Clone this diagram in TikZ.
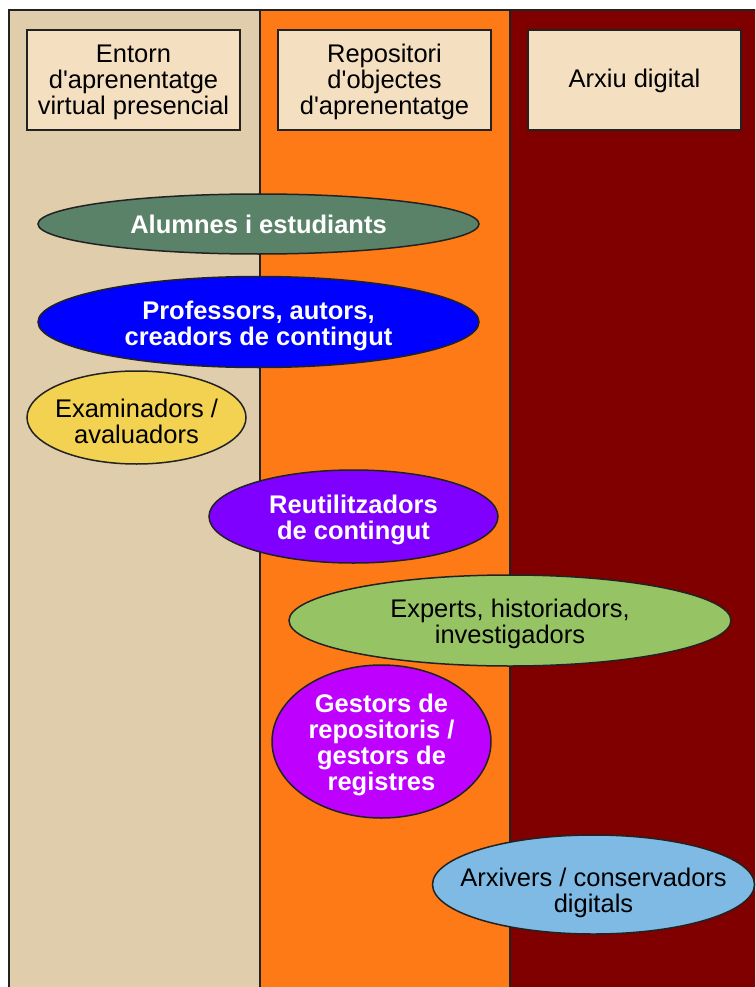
\documentclass[tikz,border=0pt]{standalone}
\usepackage{fontspec}
\setmainfont{Liberation Sans}
\usetikzlibrary{shapes.geometric}
\definecolor{colA}{RGB}{223,205,172}
\definecolor{colB}{RGB}{254,122,22}
\definecolor{colC}{RGB}{128,0,0}
\definecolor{hdrfill}{RGB}{244,224,193}
\definecolor{edgecol}{RGB}{34,34,34}
\definecolor{ellGreenDark}{RGB}{90,130,104}
\definecolor{ellBlue}{RGB}{0,0,255}
\definecolor{ellYellow}{RGB}{242,210,80}
\definecolor{ellPurple}{RGB}{128,0,255}
\definecolor{ellGreen}{RGB}{150,196,100}
\definecolor{ellMagenta}{RGB}{190,0,255}
\definecolor{ellLightBlue}{RGB}{126,186,228}
\newcommand{\apos}{\textquotesingle}
\tikzset{
  txt/.style={font=\fontsize{25.5}{26}\selectfont, align=center},
  hdrbox/.style={draw=edgecol, line width=1.5pt, fill=hdrfill,
    minimum width=213pt, minimum height=100pt, inner sep=0pt},
  hdrtxt/.style={txt, text=black, inner sep=0pt},
  role/.style={ellipse, draw=edgecol, line width=1.5pt, inner sep=0pt},
  wtxt/.style={txt, text=white, font=\fontsize{25.5}{26}\selectfont\bfseries, inner sep=0pt},
  btxt/.style={txt, text=black, inner sep=0pt},
  coldiv/.style={draw=edgecol, line width=1.5pt}
}
\begin{document}
\begin{tikzpicture}[x=1pt,y=-1pt]
\useasboundingbox (0,0) rectangle (755,987);
\begin{scope}
\clip (0,0) rectangle (755,987);
\fill[colA] (9,10) rectangle (260,1000);
\fill[colB] (260,10) rectangle (510,1000);
\fill[colC] (510,10) rectangle (770,1000);
\draw[coldiv] (9,1000) -- (9,10) -- (770,10);
\draw[coldiv] (260,10) -- (260,1000);
\draw[coldiv] (510,10) -- (510,1000);
\end{scope}

\node[hdrbox] (h1) at (133.5,80) {};
\node[hdrbox] (h2) at (384.5,80) {};
\node[hdrbox] (h3) at (634.5,80) {};
\node[hdrtxt, yshift=-2pt] (h1t) at (h1.center) {Entorn\\d\apos aprenentatge\\virtual presencial};
\node[hdrtxt, yshift=-2pt] (h2t) at (h2.center) {Repositori\\d\apos objectes\\d\apos aprenentatge};
\node[hdrtxt, yshift=-1pt] (h3t) at (h3.center) {Arxiu digital};

\node[role, fill=ellGreenDark, minimum width=441pt, minimum height=60pt] (alumnes) at (258.5,224) {};
\node[role, fill=ellBlue, minimum width=441pt, minimum height=91pt] (prof) at (258.5,322) {};
\node[role, fill=ellYellow, minimum width=219pt, minimum height=93pt] (exam) at (136.5,417.5) {};
\node[role, fill=ellPurple, minimum width=289pt, minimum height=93pt] (reut) at (353.5,516.5) {};
\node[role, fill=ellGreen, minimum width=442pt, minimum height=91pt] (experts) at (510,620.5) {};
\node[role, fill=ellMagenta, minimum width=219pt, minimum height=153pt] (gestors) at (381.5,741.5) {};
\node[role, fill=ellLightBlue, minimum width=322pt, minimum height=99pt] (arxivers) at (593.5,884.5) {};

\node[wtxt] (alumnest) at (alumnes.center) {Alumnes i estudiants};
\node[wtxt, yshift=-3.5pt] (proft) at (prof.center) {Professors, autors,\\creadors de contingut};
\node[btxt, yshift=-3.5pt] (examt) at (exam.center) {Examinadors /\\avaluadors};
\node[wtxt, yshift=-3.5pt] (reutt) at (reut.center) {Reutilitzadors\\de contingut};
\node[btxt, yshift=-3.5pt] (expertst) at (experts.center) {Experts, historiadors,\\investigadors};
\node[wtxt, yshift=-3.5pt] (gestorst) at (gestors.center) {Gestors de\\repositoris /\\gestors de\\registres};
\node[btxt, yshift=-8.5pt] (arxiverst) at (arxivers.center) {Arxivers / conservadors\\digitals};
\end{tikzpicture}
\end{document}
